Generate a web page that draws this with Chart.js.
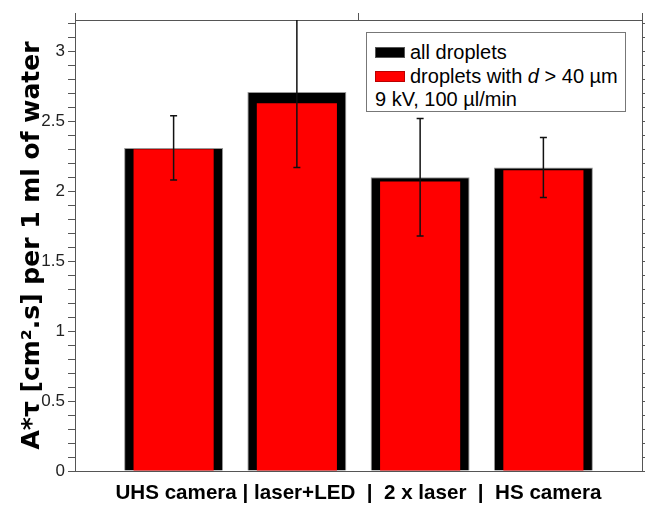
<!DOCTYPE html>
<html>
<head>
<meta charset="utf-8">
<script src="https://cdn.jsdelivr.net/npm/chart.js@4/dist/chart.umd.min.js"></script>
<style>
  html, body { margin: 0; padding: 0; background: #fff; }
  #wrap { position: relative; width: 645px; height: 505px; }
  #legend {
    position: absolute; left: 366px; top: 32px; width: 258px; height: 78px;
    border: 1px solid #777; background: #fff;
    font-family: "Liberation Sans", Arial, sans-serif; font-size: 20px; color: #000;
  }
  #legend .row { position: absolute; left: 8px; height: 22px; line-height: 22px; white-space: nowrap; }
  #legend .sw { display: inline-block; width: 30px; height: 11px; margin-right: 5px; vertical-align: 1px; box-sizing: border-box; }
</style>
</head>
<body>
<div id="wrap">
  <canvas id="c" width="645" height="505"></canvas>
  <div id="legend">
    <div class="row" style="top:8px"><span class="sw" style="background:#000;border:1px solid #555"></span>all droplets</div>
    <div class="row" style="top:32px"><span class="sw" style="background:#ff0000;border:1px solid #b00"></span>droplets with <i>d</i> &gt; 40 µm</div>
    <div class="row" style="top:55px">9 kV, 100 µl/min</div>
  </div>
</div>
<script>
// ---- data ----
const categories = ["UHS camera", "laser+LED", "2 x laser", "HS camera"];
const allDroplets = [2.31, 2.71, 2.10, 2.17];
const bigDroplets = [2.30, 2.63, 2.07, 2.15];
const errAll = [0.23, 0.54, 0.42, 0.215];
const yTickStep = 0.1;
const yMajorStep = 0.5;
const xRange = [-0.8, 3.8];
const topTicks = [-0.8, 1.5, 3.8];
const xTitle = "UHS camera | laser+LED  |  2 x laser  |  HS camera";
const yTitle = "A*τ [cm².s] per 1 ml of water";

const errorBars = {
  id: 'errorBars',
  afterDatasetsDraw(chart) {
    const {ctx, chartArea, scales} = chart;
    const xs = scales.x, ys = scales.y;
    ctx.save();
    ctx.beginPath();
    ctx.rect(chartArea.left, chartArea.top, chartArea.right - chartArea.left, chartArea.bottom - chartArea.top);
    ctx.clip();
    ctx.strokeStyle = '#111';
    ctx.lineWidth = 1.5;
    allDroplets.forEach((v, i) => {
      const x = xs.getPixelForValue(i);
      const yt = ys.getPixelForValue(v + errAll[i]);
      const yb = ys.getPixelForValue(v - errAll[i]);
      ctx.beginPath();
      ctx.moveTo(x, yt); ctx.lineTo(x, yb);
      ctx.moveTo(x - 3.5, yt); ctx.lineTo(x + 3.5, yt);
      ctx.moveTo(x - 3.5, yb); ctx.lineTo(x + 3.5, yb);
      ctx.stroke();
    });
    ctx.restore();
  }
};

const isMajor = v => Math.abs(v / yMajorStep - Math.round(v / yMajorStep)) < 1e-6;
const axisColor = '#555';

new Chart(document.getElementById('c'), {
  type: 'bar',
  data: {
    datasets: [
      {
        label: 'droplets with d > 40 µm',
        data: bigDroplets.map((v, i) => ({x: i, y: v})),
        backgroundColor: '#ff0000',
        borderWidth: 0,
        barPercentage: 0.65,
        categoryPercentage: 1,
        order: 0
      },
      {
        label: 'all droplets',
        data: allDroplets.map((v, i) => ({x: i, y: v})),
        backgroundColor: '#000000',
        borderColor: '#999',
        borderWidth: 1,
        borderSkipped: 'bottom',
        barPercentage: 0.803,
        categoryPercentage: 1,
        order: 1
      }
    ]
  },
  options: {
    responsive: false,
    devicePixelRatio: 1,
    animation: false,
    layout: { padding: 0 },
    datasets: { bar: { grouped: false } },
    plugins: { legend: { display: false }, tooltip: { enabled: false } },
    scales: {
      x: {
        type: 'linear', position: 'bottom', offset: false,
        min: xRange[0], max: xRange[1],
        afterBuildTicks: s => { s.ticks = categories.map((c, i) => ({value: i})); },
        grid: { display: false, offset: false },
        border: { display: true, color: axisColor, width: 1 },
        ticks: { display: false },
        title: {
          display: true, text: xTitle, color: '#000',
          font: { family: '"Liberation Sans", Arial, sans-serif', size: 20.6, weight: 'bold', lineHeight: 1.1 },
          padding: { top: 0, bottom: 0 }
        },
        afterFit: s => { s.height = 34; }
      },
      xTop: {
        type: 'linear', position: 'top', offset: false,
        min: xRange[0], max: xRange[1],
        afterBuildTicks: s => { s.ticks = topTicks.map(v => ({value: v})); },
        grid: { drawOnChartArea: false, drawTicks: true, tickLength: 7, color: axisColor, offset: false },
        border: { display: true, color: axisColor, width: 1 },
        ticks: { callback: () => '', padding: 0, autoSkip: false },
        afterFit: s => { s.height = 20; }
      },
      y: {
        type: 'linear', position: 'left',
        min: 0, max: 3.225,
        grid: { drawOnChartArea: false, drawTicks: true, tickLength: 7, color: axisColor },
        border: { display: true, color: axisColor, width: 1 },
        ticks: {
          stepSize: yTickStep, includeBounds: false, autoSkip: false, maxTicksLimit: 100,
          padding: 3, color: '#222',
          font: { family: '"Liberation Sans", Arial, sans-serif', size: 17 },
          callback: v => isMajor(v) ? String(Math.round(v * 10) / 10) : ''
        },
        title: {
          display: true, text: yTitle, color: '#000',
          font: { family: '"DejaVu Sans", Verdana, sans-serif', size: 25, weight: 'bold', lineHeight: 1.2 },
          padding: { top: 17, bottom: 0 }
        },
        afterFit: s => { s.width = 75; }
      },
      yRight: {
        type: 'linear', position: 'right',
        min: 0, max: 3.225,
        grid: { drawOnChartArea: false, drawTicks: true, tickLength: 3, color: axisColor },
        border: { display: true, color: axisColor, width: 1 },
        ticks: {
          stepSize: yTickStep, includeBounds: false, autoSkip: false, maxTicksLimit: 100,
          padding: 0, callback: () => ''
        },
        afterFit: s => { s.width = 3; }
      }
    }
  },
  plugins: [errorBars]
});
</script>
</body>
</html>
